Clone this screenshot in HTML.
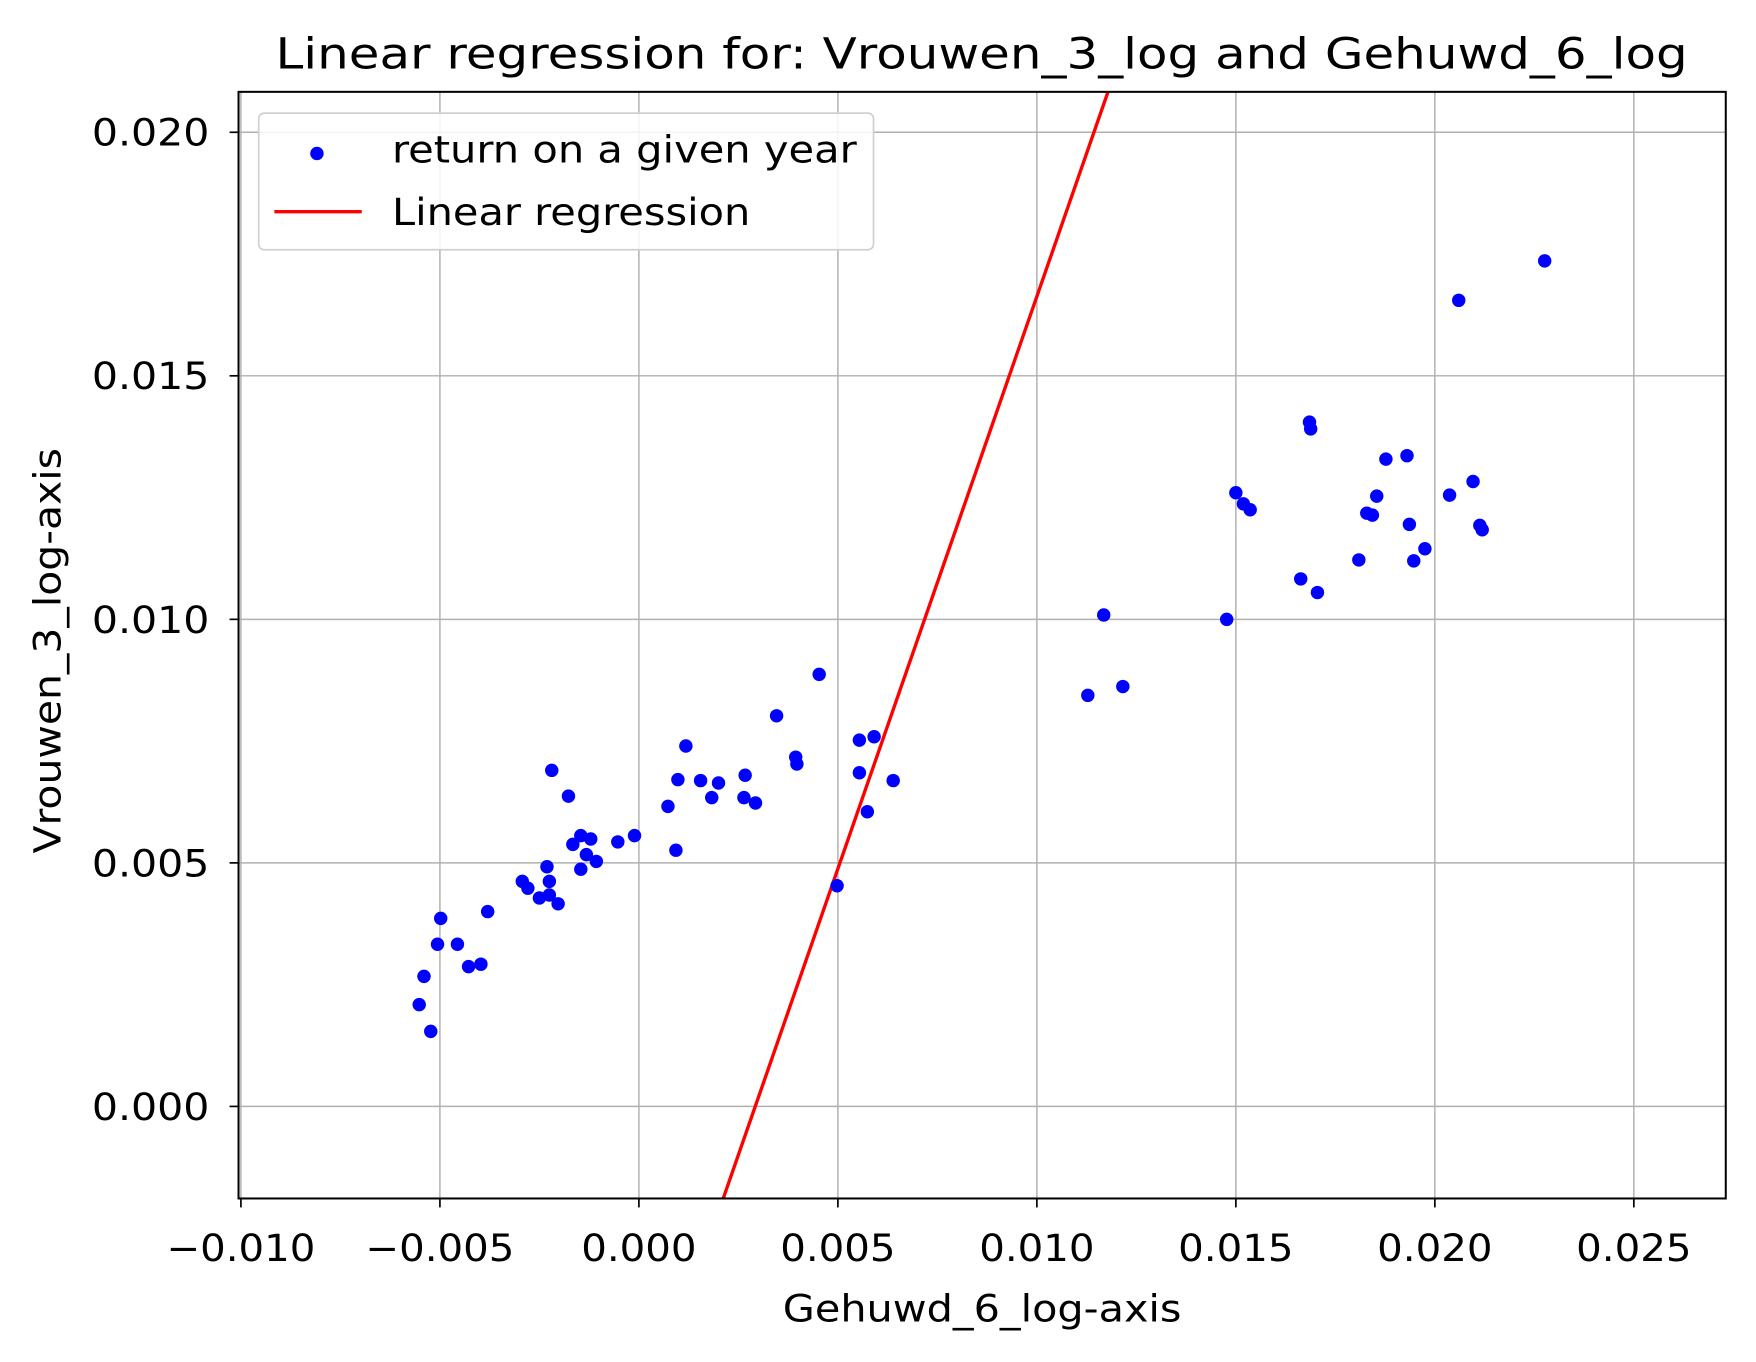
<!DOCTYPE html>
<html><head><meta charset="utf-8"><style>
html,body{margin:0;padding:0;background:#fff;}
svg{display:block;font-family:"DejaVu Sans","Liberation Sans",sans-serif;}
</style></head><body>
<svg id="chart" width="1756" height="1362" viewBox="0 0 1568 1216" preserveAspectRatio="none" xmlns="http://www.w3.org/2000/svg">
<rect width="1568" height="1216" fill="#fff"/>
<g id="grid"></g>
<g id="line"></g>
<g id="pts"></g>
<rect x="213" y="82" width="1328" height="988" fill="none" stroke="#000" stroke-width="1.8"/>
<g id="ticks"></g>
<text x="246" y="61" font-size="38" textLength="1261" lengthAdjust="spacingAndGlyphs">Linear regression for: Vrouwen_3_log and Gehuwd_6_log</text>
<text x="699" y="1180" font-size="33" textLength="356" lengthAdjust="spacingAndGlyphs">Gehuwd_6_log-axis</text>
<text transform="translate(54,762) rotate(-90)" font-size="33" textLength="362" lengthAdjust="spacingAndGlyphs">Vrouwen_3_log-axis</text>
<g>
<rect x="231" y="101" width="549" height="122" rx="5" fill="#fff" fill-opacity="0.85" stroke="#d0d0d0" stroke-width="1.5"/>
<circle cx="283" cy="137" r="6" fill="#0000ff"/>
<text x="350" y="145" font-size="33" textLength="415" lengthAdjust="spacingAndGlyphs">return on a given year</text>
<line x1="245" y1="189" x2="323" y2="189" stroke="#ff0000" stroke-width="3"/>
<text x="350" y="201" font-size="33" textLength="320" lengthAdjust="spacingAndGlyphs">Linear regression</text>
</g>
</svg>
<script>
const xs=[-0.00552,-0.00540,-0.00523,-0.00506,-0.00498,-0.00456,-0.00428,-0.00397,-0.00380,-0.00293,-0.00279,-0.00250,-0.00231,-0.00225,-0.00225,-0.00203,-0.00219,-0.00177,-0.00166,-0.00146,-0.00146,-0.00132,-0.00121,-0.00107,-0.00053,-0.00011,0.00073,0.00093,0.00098,0.00118,0.00155,0.00183,0.00200,0.00267,0.00264,0.00293,0.00346,0.00394,0.00397,0.00453,0.00498,0.00554,0.00554,0.00574,0.00591,0.00639,0.01128,0.01168,0.01216,0.01477,0.01500,0.01519,0.01536,0.01663,0.01685,0.01688,0.01705,0.01809,0.01829,0.01843,0.01854,0.01877,0.01930,0.01936,0.01947,0.01975,0.02037,0.02060,0.02096,0.02113,0.02119,0.02276];
const ys=[0.00209,0.00267,0.00154,0.00333,0.00386,0.00333,0.00287,0.00292,0.00400,0.00462,0.00448,0.00428,0.00492,0.00462,0.00434,0.00416,0.00690,0.00637,0.00538,0.00556,0.00487,0.00517,0.00549,0.00503,0.00543,0.00556,0.00616,0.00526,0.00671,0.00740,0.00669,0.00634,0.00664,0.00680,0.00634,0.00623,0.00802,0.00717,0.00703,0.00887,0.00453,0.00752,0.00685,0.00605,0.00759,0.00669,0.00844,0.01009,0.00862,0.01000,0.01260,0.01237,0.01225,0.01083,0.01405,0.01391,0.01055,0.01122,0.01218,0.01214,0.01253,0.01329,0.01336,0.01195,0.01120,0.01145,0.01255,0.01655,0.01283,0.01193,0.01184,0.01736];
const slope=2.35, intercept=-0.00687;
const xTicks=[-0.010,-0.005,0.000,0.005,0.010,0.015,0.020,0.025];
const yTicks=[0.000,0.005,0.010,0.015,0.020];
const X0=-0.01006,X1=0.02731,Y0=-0.00189,Y1=0.02083;
const L=213,R=1541,T=82,B=1070;
const sx=v=>L+(v-X0)/(X1-X0)*(R-L);
const sy=v=>B-(v-Y0)/(Y1-Y0)*(B-T);
const NS="http://www.w3.org/2000/svg";
function mk(tag,parent,attrs){const e=document.createElementNS(NS,tag);for(const k in attrs)e.setAttribute(k,attrs[k]);document.getElementById(parent).appendChild(e);return e;}
const fmt=v=>(v<0?"\u2212":"")+Math.abs(v).toFixed(3);
xTicks.forEach(t=>{const x=sx(t);
 const g=mk('line','grid',{x1:x,x2:x,y1:T,y2:B,stroke:'#b0b0b0','stroke-width':1.3});
 
 
 const k=mk('line','ticks',{x1:x,x2:x,y1:B,y2:B+8,stroke:'#000','stroke-width':1.5});
 
 
 const tx=mk('text','ticks',{x:x,y:B+56,'font-size':33,'text-anchor':'middle',textLength:t<0?133:103,lengthAdjust:'spacingAndGlyphs'});tx.textContent=fmt(t);
 
 
});
yTicks.forEach(t=>{const y=sy(t);
 const g=mk('line','grid',{x1:L,x2:R,y1:y,y2:y,stroke:'#b0b0b0','stroke-width':1.3});
 
 
 const k=mk('line','ticks',{x1:L-8,x2:L,y1:y,y2:y,stroke:'#000','stroke-width':1.5});
 
 
 const tx=mk('text','ticks',{x:187,y:y+12,'font-size':33,'text-anchor':'end',textLength:105,lengthAdjust:'spacingAndGlyphs'});tx.textContent=fmt(t);
 
 
});
const xa=(Y0-intercept)/slope, xb=(Y1-intercept)/slope;
const rl=mk('line','line',{x1:sx(xa),y1:sy(Y0),x2:sx(xb),y2:sy(Y1),stroke:'#ff0000','stroke-width':3});


xs.forEach((v,i)=>{const c=mk('circle','pts',{cx:sx(v),cy:sy(ys[i]),r:6,fill:'#0000ff'});
 
 
});
</script>
</body></html>
